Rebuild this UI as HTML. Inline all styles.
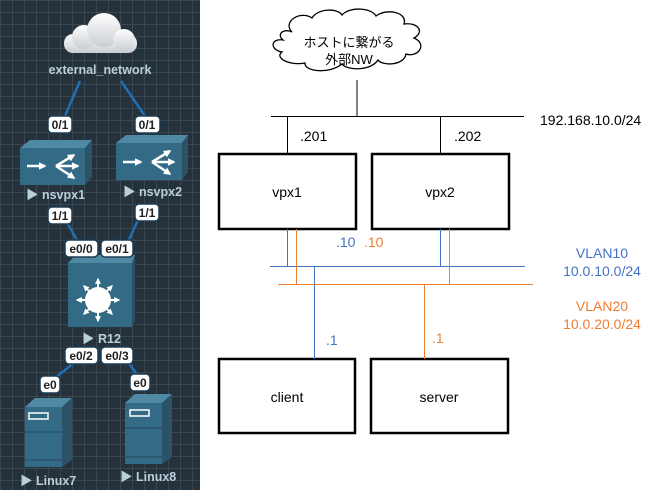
<!DOCTYPE html>
<html><head><meta charset="utf-8"><style>
html,body{margin:0;padding:0;background:#fff;}
svg{display:block;}
text{font-family:"Liberation Sans","Noto Sans CJK JP",sans-serif;}
</style></head><body>
<svg width="672" height="490" viewBox="0 0 672 490" xmlns="http://www.w3.org/2000/svg">
<defs>
<pattern id="g" width="12" height="12" patternUnits="userSpaceOnUse">
<rect width="12" height="12" fill="#26323b"/>
<path d="M0 0.5H12M0.5 0V12" stroke="#3a4750" stroke-width="1"/>
</pattern>
<linearGradient id="cl" x1="0" y1="0" x2="0" y2="1"><stop offset="0" stop-color="#ffffff"/><stop offset="1" stop-color="#c9cdd2"/></linearGradient>
<marker id="ah" viewBox="0 0 10 10" refX="8" refY="5" markerWidth="3" markerHeight="3" orient="auto"><path d="M0 0L10 5L0 10Z" fill="#fff"/></marker>
</defs>
<rect x="0" y="0" width="200" height="490" fill="url(#g)"/>
<!-- cloud -->
<g fill="url(#cl)">
<rect x="64" y="34" width="73" height="19" rx="9"/>
<circle cx="84" cy="37" r="12"/>
<circle cx="104" cy="30" r="17"/>
<circle cx="124" cy="40" r="11"/>
</g>
<text x="100" y="74" font-size="12.5" font-weight="bold" fill="#b9cfda" text-anchor="middle">external_network</text>
<g stroke="#1f6fb5" stroke-width="2.5">
<line x1="80" y1="81" x2="65" y2="116"/><line x1="121" y1="81" x2="145" y2="116"/>
<line x1="68" y1="224" x2="78" y2="242"/><line x1="138" y1="220" x2="128" y2="242"/>
<line x1="75" y1="362" x2="55" y2="378"/><line x1="128" y1="362" x2="138" y2="376"/>
</g>
<!-- nsvpx1 -->
<g>
<polygon points="20,148 30,140 92,140 85,148" fill="#4f8aa5"/>
<polygon points="85,148 92,140 92,177 85,185" fill="#2c5268"/>
<rect x="20" y="148" width="65" height="37" fill="#336a85"/>
<g stroke="#fff" stroke-width="2.5" fill="none" marker-end="url(#ah)">
<path d="M27 166H45"/><path d="M56 166H78"/><path d="M56 166L74 155"/><path d="M56 166L74 178"/>
</g>
</g>
<g>
<polygon points="116,143 126,135 188,135 182,143" fill="#4f8aa5"/>
<polygon points="182,143 188,135 188,172 182,180" fill="#2c5268"/>
<rect x="116" y="143" width="66" height="37" fill="#336a85"/>
<g stroke="#fff" stroke-width="2.5" fill="none" marker-end="url(#ah)">
<path d="M123 162H141"/><path d="M152 162H174"/><path d="M152 162L170 151"/><path d="M152 162L170 174"/>
</g>
</g>
<!-- R12 -->
<polygon points="68,263 76,255 135,255 132,263" fill="#4f8aa5"/>
<polygon points="132,263 135,255 135,320 132,327" fill="#2c5268"/>
<rect x="68" y="263" width="64" height="64" fill="#336a85"/>
<g stroke="#fff" stroke-width="2" marker-end="url(#ah)">
<path d="M98 300V279"/><path d="M98 300V321"/><path d="M98 300H77"/><path d="M98 300H119"/>
<path d="M98 300L84 286"/><path d="M98 300L112 286"/><path d="M98 300L84 314"/><path d="M98 300L112 314"/>
</g>
<circle cx="98" cy="300" r="13" fill="#fff"/>
<!-- servers -->
<polygon points="25,407 35,398 72,398 62,407" fill="#4f8aa5"/>
<polygon points="62,407 72,398 72,460 62,467" fill="#2c5268"/>
<rect x="25" y="407" width="37" height="60" fill="#336a85"/>
<rect x="29" y="413" width="19" height="6" fill="none" stroke="#fff" stroke-width="1.5"/>
<line x1="25" y1="432" x2="62" y2="432" stroke="#26465a"/><line x1="25" y1="460" x2="62" y2="460" stroke="#26465a"/>
<polygon points="125,403 135,394 172,394 162,403" fill="#4f8aa5"/>
<polygon points="162,403 172,394 172,457 162,464" fill="#2c5268"/>
<rect x="125" y="403" width="37" height="61" fill="#336a85"/>
<rect x="130" y="410" width="19" height="6" fill="none" stroke="#fff" stroke-width="1.5"/>
<line x1="125" y1="428" x2="162" y2="428" stroke="#26465a"/><line x1="125" y1="457" x2="162" y2="457" stroke="#26465a"/>
<!-- labels -->
<g font-size="12" fill="#222" text-anchor="middle">
<g fill="#fff" stroke="#1d3d55" stroke-width="1.5">
<rect x="48" y="116" width="24" height="17" rx="4"/><rect x="135" y="116" width="25" height="17" rx="4"/>
<rect x="48" y="207" width="24" height="17" rx="4"/><rect x="135" y="204" width="24" height="17" rx="4"/>
<rect x="65" y="240" width="33" height="17" rx="4"/><rect x="101" y="240" width="32" height="17" rx="4"/>
<rect x="65" y="347" width="33" height="17" rx="4"/><rect x="101" y="347" width="32" height="17" rx="4"/>
<rect x="40" y="376" width="20" height="17" rx="4"/><rect x="130" y="374" width="20" height="17" rx="4"/>
</g>
<g font-weight="bold">
<text x="60" y="129">0/1</text><text x="147" y="129">0/1</text>
<text x="60" y="220">1/1</text><text x="147" y="217">1/1</text>
<text x="81" y="253">e0/0</text><text x="117" y="253">e0/1</text>
<text x="81" y="360">e0/2</text><text x="117" y="360">e0/3</text>
<text x="50" y="389">e0</text><text x="140" y="387">e0</text>
</g>
</g>
<g font-size="12.5" font-weight="bold" fill="#b9cfda">
<text x="26" y="199">▶ nsvpx1</text><text x="123" y="196">▶ nsvpx2</text>
<text x="82" y="343">▶ R12</text>
<text x="20" y="485">▶ Linux7</text><text x="120" y="481">▶ Linux8</text>
</g>

<!-- right diagram -->
<path d="M292 32 C282 22 300 10 312 18 C318 8 338 8 342 15 C350 6 372 8 376 16 C386 8 408 12 404 24 C418 22 425 32 414 38 C428 44 418 58 406 54 C404 66 382 66 378 60 C370 72 346 70 342 64 C330 74 304 72 305 63 C290 66 274 58 282 52 C270 50 270 38 283 40 C276 34 284 28 292 32 Z" fill="#fff" stroke="#000" stroke-width="1.3"/>
<text x="349" y="47" font-size="13" text-anchor="middle" fill="#000">ホストに繋がる</text>
<text x="349" y="64" font-size="13" text-anchor="middle" fill="#000">外部NW</text>
<g stroke="#000" stroke-width="1">
<line x1="357" y1="80" x2="357" y2="116"/>
<line x1="271" y1="116.5" x2="524" y2="116.5"/>
<line x1="287.5" y1="116" x2="287.5" y2="154"/>
<line x1="440.5" y1="116" x2="440.5" y2="154"/>
</g>
<text x="300" y="141" font-size="14" fill="#000">.201</text>
<text x="454" y="141" font-size="14" fill="#000">.202</text>
<text x="540" y="125" font-size="14" fill="#000">192.168.10.0/24</text>
<g fill="none" stroke="#000" stroke-width="2.5">
<rect x="219" y="154" width="137" height="75"/>
<rect x="372" y="154" width="137" height="75"/>
<rect x="219" y="359" width="136" height="74"/>
<rect x="371" y="359" width="137" height="74"/>
</g>
<g font-size="14" text-anchor="middle" fill="#000">
<text x="287" y="197">vpx1</text><text x="440" y="197">vpx2</text>
<text x="287" y="402">client</text><text x="439" y="402">server</text>
</g>
<g stroke="#4472c4" stroke-width="1">
<line x1="287.5" y1="229" x2="287.5" y2="267"/>
<line x1="440.5" y1="229" x2="440.5" y2="267"/>
<line x1="270" y1="266.5" x2="525" y2="266.5"/>
<line x1="314.5" y1="266" x2="314.5" y2="359"/>
</g>
<g stroke="#ed7d31" stroke-width="1">
<line x1="296.5" y1="229" x2="296.5" y2="284"/>
<line x1="449.5" y1="229" x2="449.5" y2="284"/>
<line x1="278" y1="284.5" x2="533" y2="284.5"/>
<line x1="424.5" y1="284" x2="424.5" y2="359"/>
</g>
<g font-size="14">
<text x="336" y="247" fill="#4472c4">.10</text><text x="364" y="247" fill="#ed7d31">.10</text>
<text x="326" y="345" fill="#4472c4">.1</text><text x="432" y="343" fill="#ed7d31">.1</text>
<text x="602" y="258" fill="#4472c4" text-anchor="middle">VLAN10</text>
<text x="602" y="276" fill="#4472c4" text-anchor="middle">10.0.10.0/24</text>
<text x="602" y="311" fill="#ed7d31" text-anchor="middle">VLAN20</text>
<text x="602" y="329" fill="#ed7d31" text-anchor="middle">10.0.20.0/24</text>
</g>
</svg>
</body></html>
